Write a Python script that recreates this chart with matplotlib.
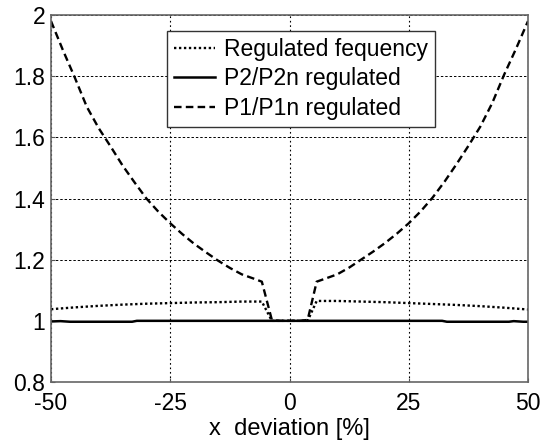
import matplotlib
matplotlib.use("Agg")
import matplotlib.pyplot as plt

plt.rcParams['font.family'] = ['Liberation Sans', 'DejaVu Sans']
plt.rcParams['axes.unicode_minus'] = False

# Data
x_p1 = [-50, -47.5, -45, -42.5, -40, -37.5, -35, -32.5, -30, -27.5, -25, -22.5, -20, -17.5, -15,
        -12.5, -10, -7.5, -5.8, -3.7, -2.3, 0, 2.2, 3.8, 5.7, 7.5, 10, 12.5, 15, 17.5, 20, 22.5,
        25, 27.5, 30, 32.5, 35, 37.5, 40, 42.5, 45, 47.5, 50]
p1 = [1.98, 1.885, 1.795, 1.70, 1.630, 1.570, 1.508, 1.453, 1.400, 1.357, 1.319, 1.284, 1.252,
      1.224, 1.197, 1.173, 1.152, 1.138, 1.128, 1.003, 1.0, 1.0, 1.0, 1.003, 1.128, 1.138, 1.152,
      1.174, 1.200, 1.226, 1.254, 1.285, 1.319, 1.358, 1.403, 1.455, 1.512, 1.572, 1.635, 1.712,
      1.805, 1.890, 1.98]

x_f = [-50, -45, -40, -35, -30, -25, -20, -15, -10, -5.8, -3.7, 0, 3.8, 5.7, 10, 15, 20, 25,
       30, 35, 40, 45, 50]
freq = [1.038, 1.044, 1.049, 1.053, 1.056, 1.058, 1.060, 1.061, 1.063, 1.063, 1.0, 1.0, 1.0,
        1.065, 1.065, 1.063, 1.061, 1.058, 1.055, 1.052, 1.048, 1.043, 1.037]

x_p2 = [-50, -48, -46, -33, -32, 0, 32, 33, 46, 47, 49, 50]
p2 = [0.998, 0.999, 0.997, 0.997, 1.0, 1.0, 1.0, 0.997, 0.997, 0.999, 0.997, 0.997]

xticks = [-50, -25, 0, 25, 50]
yticks = [0.8, 1.0, 1.2, 1.4, 1.6, 1.8, 2.0]
ytick_labels = ['0.8', '1', '1.2', '1.4', '1.6', '1.8', '2']

fig = plt.figure(figsize=(5.48, 4.43), dpi=100)
ax = fig.add_axes([51/548, (443-382)/443, 477/548, 367/443])

ax.plot(x_f, freq, color='black', linestyle=(0, (1, 1.1)), linewidth=1.7, label='Regulated fequency')
ax.plot(x_p2, p2, color='black', linestyle='-', linewidth=1.8, label='P2/P2n regulated')
ax.plot(x_p1, p1, color='black', linestyle=(0, (3.2, 1.8)), linewidth=1.7, label='P1/P1n regulated')

ax.set_xlim(-50, 50)
ax.set_ylim(0.8, 2.0)
ax.set_xticks(xticks)
ax.set_xticklabels([str(v) for v in xticks])
ax.set_yticks(yticks)
ax.set_yticklabels(ytick_labels)
ax.tick_params(direction='in', length=3, labelsize=16.5, color='#555555')
ax.tick_params(axis='x', pad=7)
ax.tick_params(axis='y', pad=4)
ax.yaxis.grid(True, color='black', linestyle=(0, (2.5, 2)), linewidth=0.7)
ax.xaxis.grid(True, color='black', linestyle=(0, (1.5, 2.5)), linewidth=0.8)
for s in ax.spines.values():
    s.set_color('#666666')
    s.set_linewidth(1.2)

ax.set_xlabel('x  deviation [%]', fontsize=17, labelpad=2)

leg = ax.legend(loc='upper left', bbox_to_anchor=(0.243, 0.956), fontsize=16.5,
                frameon=True, fancybox=False, edgecolor='#333333', framealpha=1,
                handlelength=1.8, handletextpad=0.4, borderpad=0.3, labelspacing=0.28,
                borderaxespad=0)
leg.get_frame().set_linewidth(1.0)

fig.savefig('out.png', dpi=100)
